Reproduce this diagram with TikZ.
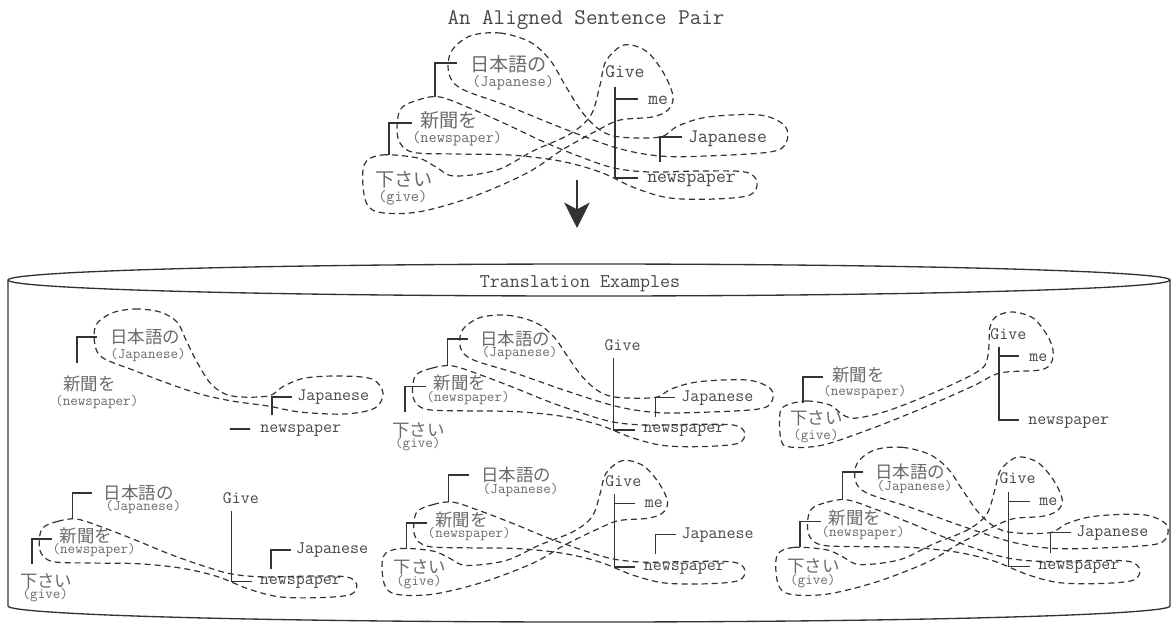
\documentclass[tikz,border=0pt]{standalone}
\usepackage{fontspec}
\newfontfamily\jpf{Noto Sans CJK JP}
\usetikzlibrary{arrows.meta}
\definecolor{ln}{HTML}{333333}
\definecolor{jc}{HTML}{6A6A6A}
\definecolor{ec}{HTML}{474747}
\tikzset{
  bigtext/.style={
    jw/.style={font=\jpf\fontsize{14.4}{16}\selectfont, text=jc, inner sep=0pt, anchor=base west},
    gw/.style={font=\ttfamily\fontsize{11.9}{13}\selectfont, text=jc, inner sep=0pt, anchor=base west},
    ew/.style={font=\ttfamily\fontsize{14.3}{16}\selectfont, text=ec, inner sep=0pt, anchor=base west}},
  smalltext/.style={
    jw/.style={font=\jpf\fontsize{13.1}{15}\selectfont, text=jc, inner sep=0pt, anchor=base west},
    gw/.style={font=\ttfamily\fontsize{11}{12}\selectfont, text=jc, inner sep=0pt, anchor=base west},
    ew/.style={font=\ttfamily\fontsize{13.1}{15}\selectfont, text=ec, inner sep=0pt, anchor=base west}},
  treeln/.style={draw=ln, line width=1pt},
  alnloop/.style={draw=ln, line width=0.9pt, dash pattern=on 4.5pt off 3pt},
  cyl/.style={draw=ln, line width=1pt},
  ttl/.style={font=\ttfamily\fontsize{16.8}{18}\selectfont, text=ec, inner sep=0pt, anchor=base},
  ttlb/.style={font=\ttfamily\fontsize{14.6}{16}\selectfont, text=ec, inner sep=0pt, anchor=base},
}
% ---- words (local coordinates of the full layout) ----
\newcommand\gsh{11.5pt}
\newcommand\wJa{\node[jw] (ja) at (470,71) {日本語の};
  \node[gw] (jag) at ([xshift=1.5pt,yshift=-\gsh]ja.base west) {(Japanese)};}
\newcommand\wSh{\node[jw] (sh) at (420,127) {新聞を};
  \node[gw] (shg) at ([xshift=-6pt,yshift=-\gsh]sh.base west) {(newspaper)};}
\newcommand\wKu{\node[jw] (ku) at (375,186) {下さい};
  \node[gw] (kug) at ([xshift=2.25pt,yshift=-\gsh]ku.base west) {(give)};}
\newcommand\wGive{\node[ew] (give) at (605,77) {Give};}
\newcommand\wMe{\node[ew] (me) at (648,104) {me};}
\newcommand\wJp{\node[ew] (jp) at (688,142) {Japanese};}
\newcommand\wNp{\node[ew] (np) at (647,182) {newspaper};}
% ---- tree lines ----
\newcommand\tJa{\coordinate (b1) at (435,97); \coordinate (b1e) at (457,63); \draw[treeln] (b1) |- (b1e);}
\newcommand\tSh{\coordinate (b2) at (389,155); \coordinate (b2e) at (412,123); \draw[treeln] (b2) |- (b2e);}
\newcommand\tStem{\coordinate (st) at (615,87); \coordinate (npb) at (638,178); \draw[treeln] (st) |- (npb);}
\newcommand\tMe{\coordinate (mb0) at (615,99); \coordinate (mb) at (638,99); \draw[treeln] (mb0) -- (mb);}
\newcommand\tJp{\coordinate (b3) at (660,162); \coordinate (b3e) at (682,137); \draw[treeln] (b3) |- (b3e);}
% ---- alignment loops ----
\newcommand\lA{\draw[alnloop] plot[smooth cycle, tension=0.55] coordinates {(470,36) (500,33) (530,42) (550,60) (565,85) (582,112) (600,130) (620,137) (660,137) (678,126) (708,117) (760,115) (785,126) (786,143) (770,152) (706,156) (660,156) (617,148) (562,128) (508,106) (462,89) (449,74) (451,52)};}
\newcommand\lB{\draw[alnloop] plot[smooth cycle, tension=0.55] coordinates {(400,110) (418,100) (440,97) (472,109) (508,125) (544,142) (581,157) (614,168) (650,172) (700,171) (745,172) (757,182) (750,195) (715,199) (670,198) (635,188) (600,172) (560,161) (510,155) (455,154) (412,152) (398,138)};}
\newcommand\lC{\draw[alnloop] plot[smooth cycle, tension=0.55] coordinates {(364,165) (382,155) (418,158) (436,167) (454,176) (497,170) (533,151) (570,134) (591,115) (600,85) (606,61) (624,45) (646,51) (663,72) (673,96) (668,110) (652,117) (620,120) (598,130) (562,150) (527,173) (472,197) (418,212) (378,212) (365,199)};}

\begin{document}
\begin{tikzpicture}[x=0.75pt,y=-0.75pt]
\useasboundingbox (0,0) rectangle (1176,626);
% title
\node[ttl] (title) at (586,24) {An Aligned Sentence Pair};
% top example
\begin{scope}[bigtext, name prefix=t-]
  \wJa \wSh \wKu \wGive \wMe \wJp \wNp
  \tJa \tSh \tStem \tMe \tJp
  \lA \lB \lC
\end{scope}
% arrow
\coordinate (arrS) at (577,180);
\coordinate (arrE) at (577,228);
\draw[draw=ln, line width=2.2pt, -{Stealth[length=19pt,width=19pt,inset=5pt]}] (arrS) -- (arrE);
% cylinder
\draw[cyl] (589,280) ellipse [x radius=581, y radius=16];
\draw[cyl] (8,280) -- (8,606) arc[start angle=180, end angle=0, x radius=581, y radius=16] -- (1170,280);
\node[ttlb] (te) at (580,287) {Translation Examples};

% panel 1
\begin{scope}[smalltext, name prefix=p1-]
  \node[jw] (ja) at (110,343) {日本語の};
  \node[gw] (jag) at (110,358) {(Japanese)};
  \node[jw] (sh) at (63,390) {新聞を};
  \node[gw] (shg) at (55,405) {(newspaper)};
  \node[ew] (jp) at (297,400) {Japanese};
  \node[ew] (np) at (260,432) {newspaper};
  \coordinate (b1) at (77,363); \coordinate (b1e) at (97,337);
  \draw[treeln] (b1) |- (b1e);
  \coordinate (b3) at (272,415); \coordinate (b3e) at (292,397);
  \draw[treeln] (b3) |- (b3e);
  \coordinate (nb0) at (230,429); \coordinate (nb) at (250,429);
  \draw[treeln] (nb0) -- (nb);
  \draw[alnloop] plot[smooth cycle, tension=0.55] coordinates {(112,313) (135,309) (160,312) (177,322) (186,340) (197,362) (212,385) (232,396) (268,396) (284,386) (305,378) (340,376) (372,379) (383,393) (375,408) (345,414) (300,412) (268,406) (232,401) (200,394) (167,383) (133,370) (103,358) (95,345) (96,325)};
\end{scope}

% panel 2
\begin{scope}[smalltext, name prefix=p2-, shift={(46,289.2)}, xscale=0.923, yscale=0.79]
  \def\gsh{11pt}
  \wJa \wSh \wKu \wGive \wJp \wNp
  \tJa \tSh \tStem \tJp
  \lA \lB
\end{scope}

% panel 3
\begin{scope}[smalltext, name prefix=p3-]
  \node[jw] (sh) at (832,381) {新聞を};
  \node[gw] (shg) at (823,395) {(newspaper)};
  \node[jw] (ku) at (790,424) {下さい};
  \node[gw] (kug) at (793,439) {(give)};
  \node[ew] (give) at (990,339) {Give};
  \node[ew] (me) at (1029,361) {me};
  \node[ew] (np) at (1028,424) {newspaper};
  \coordinate (b2) at (803,403); \coordinate (b2e) at (823,377);
  \draw[treeln] (b2) |- (b2e);
  \coordinate (st) at (999,347); \coordinate (npb) at (1019,420);
  \draw[treeln] (st) |- (npb);
  \coordinate (mb0) at (999,356); \coordinate (mb) at (1019,356);
  \draw[treeln] (mb0) -- (mb);
  \draw[alnloop] plot[smooth cycle, tension=0.55] coordinates {(787,405) (807,401) (830,405) (843,415) (857,418) (890,410) (940,390) (980,370) (988,355) (990,327) (997,316) (1013,312) (1033,318) (1047,335) (1053,350) (1051,363) (1040,370) (1000,373) (973,386) (923,408) (873,428) (823,445) (790,447) (781,440) (780,413)};
\end{scope}

% panel 4
\begin{scope}[smalltext, name prefix=p4-, shift={(-311,444.4)}, xscale=0.882, yscale=0.77]
  \def\gsh{11pt}
  \wJa \wSh \wKu \wGive \wJp \wNp
  \tJa \tSh \tStem \tJp
  \lB
\end{scope}

% panel 5
\begin{scope}[smalltext, name prefix=p5-, shift={(48.4,424.6)}, xscale=0.92, yscale=0.8]
  \def\gsh{11pt}
  \wJa \wSh \wKu \wGive \wMe \wJp \wNp
  \tJa \tSh \tStem \tMe \tJp
  \lB \lC
\end{scope}

% panel 6
\begin{scope}[smalltext, name prefix=p6-, shift={(441,420.3)}, xscale=0.923, yscale=0.82]
  \def\gsh{11pt}
  \wJa \wSh \wKu \wGive \wMe \wJp \wNp
  \tJa \tSh \tStem \tMe \tJp
  \lA \lB \lC
\end{scope}
\end{tikzpicture}
\end{document}
